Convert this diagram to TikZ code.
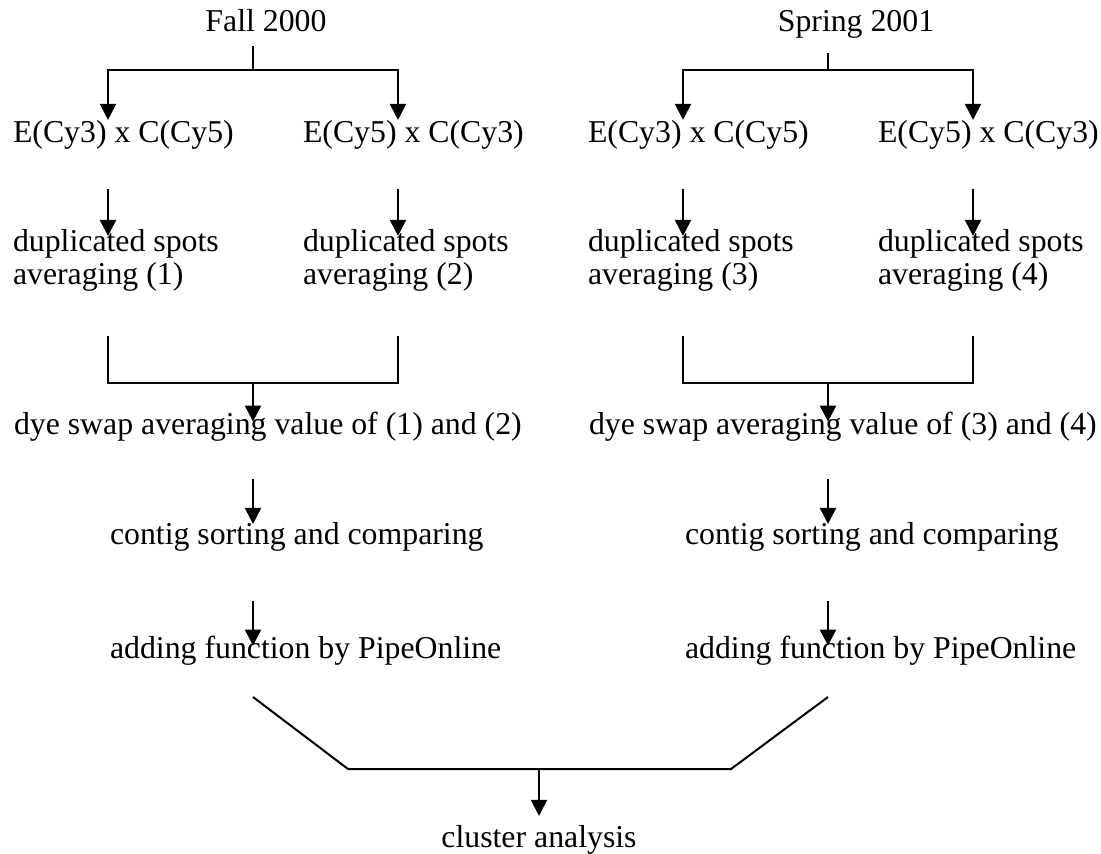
\documentclass[tikz,border=0pt]{standalone}
\usepackage{fontspec}
\setmainfont{Liberation Serif}
\usetikzlibrary{arrows.meta}

\begin{document}
\begin{tikzpicture}[x=0.5pt, y=-0.5pt, ->, >={Triangle[width=8pt,length=8pt]}, line width=1pt,
    every node/.style={inner sep=0pt, font=\fontsize{15.9}{16.5}\selectfont},
    txt/.style={anchor=base west, align=left}]
      \useasboundingbox (0,0) rectangle (1101,854);

      % Fall 2000
      \node[anchor=base] (fall) at (266,32) {Fall 2000};
      \coordinate (fsplit) at (253,70);
      \coordinate (fa) at (108,70);
      \coordinate (fb) at (398,70);
      \node[txt] (ea) at (12,143) {E(Cy3) x C(Cy5)};
      \node[txt] (eb) at (302,143) {E(Cy5) x C(Cy3)};
      \node[txt] (dupa) at (12,285) {duplicated spots\\averaging (1)};
      \node[txt] (dupb) at (302,285) {duplicated spots\\averaging (2)};
      \coordinate (fjoin) at (253,383);
      \node[txt] (dyea) at (13,435) {dye swap averaging value of (1) and (2)};
      \node[txt] (contiga) at (109,545) {contig sorting and comparing};
      \node[txt] (adda) at (109,658) {adding function by PipeOnline};

      % Spring 2001
      \node[anchor=base] (spring) at (856,32) {Spring 2001};
      \coordinate (ssplit) at (828,70);
      \coordinate (sa) at (683,70);
      \coordinate (sb) at (973,70);
      \node[txt] (ec) at (587,143) {E(Cy3) x C(Cy5)};
      \node[txt] (ed) at (877,143) {E(Cy5) x C(Cy3)};
      \node[txt] (dupc) at (587,285) {duplicated spots\\averaging (3)};
      \node[txt] (dupd) at (877,285) {duplicated spots\\averaging (4)};
      \coordinate (sjoin) at (828,383);
      \node[txt] (dyeb) at (588,435) {dye swap averaging value of (3) and (4)};
      \node[txt] (contigb) at (684,545) {contig sorting and comparing};
      \node[txt] (addb) at (684,658) {adding function by PipeOnline};

      % Cluster
      \coordinate (ka) at (253,697);
      \coordinate (kb) at (348,769);
      \coordinate (km) at (539,769);
      \coordinate (kc) at (731,769);
      \coordinate (kd) at (828,697);
      \node[anchor=base] (cluster) at (539,847) {cluster analysis};

      % Edges, Fall 2000
      \draw[-, shorten <=6.5pt] (fall.south -| fsplit) -- (fsplit);
      \draw (fsplit) -- (fa) -- (fa |- ea.north);
      \draw (fsplit) -- (fb) -- (fb |- eb.north);
      \draw[shorten <=19pt, shorten >=-3.5pt] (fa |- ea.south) -- (fa |- dupa.north);
      \draw[shorten <=19pt, shorten >=-3.5pt] (fb |- eb.south) -- (fb |- dupb.north);
      \draw[-, shorten <=21.5pt, shorten >=21.5pt] (fa |- dupa.south) -- (fa |- fjoin) -- (fb |- fjoin) -- (fb |- dupb.south);
      \draw[shorten >=-5pt] (fjoin) -- (fjoin |- dyea.north);
      \draw[shorten <=18pt, shorten >=-1pt] (fsplit |- dyea.south) -- (fsplit |- contiga.north);
      \draw[shorten <=24pt, shorten >=-5.5pt] (fsplit |- contiga.south) -- (fsplit |- adda.north);

      % Edges, Spring 2001
      \draw[-, shorten <=6.5pt] (spring.south -| ssplit) -- (ssplit);
      \draw (ssplit) -- (sa) -- (sa |- ec.north);
      \draw (ssplit) -- (sb) -- (sb |- ed.north);
      \draw[shorten <=19pt, shorten >=-3.5pt] (sa |- ec.south) -- (sa |- dupc.north);
      \draw[shorten <=19pt, shorten >=-3.5pt] (sb |- ed.south) -- (sb |- dupd.north);
      \draw[-, shorten <=21.5pt, shorten >=21.5pt] (sa |- dupc.south) -- (sa |- sjoin) -- (sb |- sjoin) -- (sb |- dupd.south);
      \draw[shorten >=-5pt] (sjoin) -- (sjoin |- dyeb.north);
      \draw[shorten <=18pt, shorten >=-1pt] (ssplit |- dyeb.south) -- (ssplit |- contigb.north);
      \draw[shorten <=24pt, shorten >=-5.5pt] (ssplit |- contigb.south) -- (ssplit |- addb.north);

      % Edges, both to cluster
      \draw[-] (ka) -- (kb) -- (kc) -- (kd);
      \draw[shorten >=4pt] (km) -- (cluster.north);
    \end{tikzpicture}
\end{document}
